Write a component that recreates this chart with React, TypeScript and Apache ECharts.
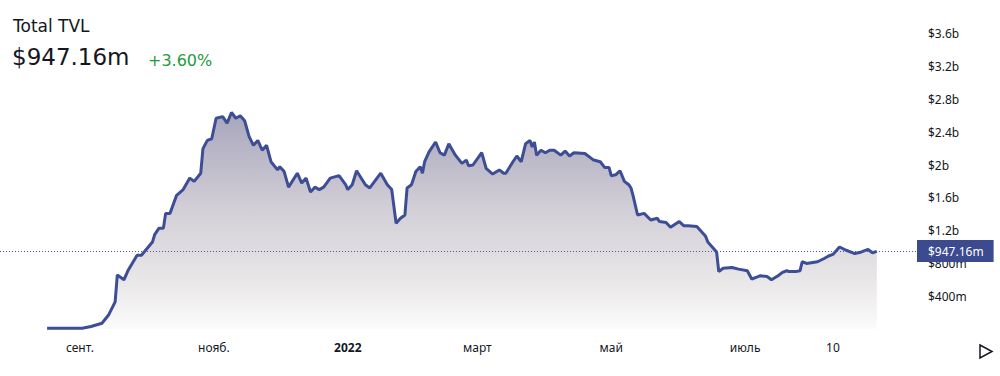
import React, { useEffect, useRef } from "react";
import * as echarts from "echarts";

// Total TVL in billions of USD, daily dates
const dates: string[] = [
  "2021-08-17", "2021-09-02", "2021-09-06", "2021-09-11", "2021-09-14", "2021-09-17", "2021-09-18", "2021-09-21",
  "2021-09-23", "2021-09-27", "2021-09-29", "2021-10-04", "2021-10-05", "2021-10-07", "2021-10-09", "2021-10-10",
  "2021-10-12", "2021-10-15", "2021-10-18", "2021-10-21", "2021-10-23", "2021-10-26", "2021-10-27", "2021-10-29",
  "2021-10-31", "2021-11-02", "2021-11-05", "2021-11-07", "2021-11-09", "2021-11-11", "2021-11-13", "2021-11-15",
  "2021-11-17", "2021-11-19", "2021-11-21", "2021-11-23", "2021-11-25", "2021-11-27", "2021-11-30", "2021-12-01",
  "2021-12-03", "2021-12-05", "2021-12-09", "2021-12-11", "2021-12-13", "2021-12-15", "2021-12-17", "2021-12-19",
  "2021-12-21", "2021-12-24", "2021-12-28", "2021-12-31", "2022-01-01", "2022-01-03", "2022-01-05", "2022-01-09",
  "2022-01-11", "2022-01-16", "2022-01-19", "2022-01-21", "2022-01-23", "2022-01-25", "2022-01-27", "2022-01-28",
  "2022-01-30", "2022-02-01", "2022-02-03", "2022-02-04", "2022-02-05", "2022-02-07", "2022-02-10", "2022-02-12",
  "2022-02-14", "2022-02-16", "2022-02-19", "2022-02-22", "2022-02-24", "2022-02-25", "2022-02-27", "2022-03-03",
  "2022-03-05", "2022-03-08", "2022-03-11", "2022-03-13", "2022-03-14", "2022-03-17", "2022-03-19", "2022-03-21",
  "2022-03-23", "2022-03-25", "2022-03-26", "2022-03-27", "2022-03-28", "2022-03-30", "2022-04-01", "2022-04-03",
  "2022-04-05", "2022-04-08", "2022-04-10", "2022-04-12", "2022-04-14", "2022-04-19", "2022-04-23", "2022-04-26",
  "2022-04-28", "2022-04-30", "2022-05-01", "2022-05-03", "2022-05-05", "2022-05-07", "2022-05-09", "2022-05-10",
  "2022-05-11", "2022-05-13", "2022-05-16", "2022-05-19", "2022-05-22", "2022-05-23", "2022-05-26", "2022-05-28",
  "2022-06-01", "2022-06-03", "2022-06-05", "2022-06-09", "2022-06-13", "2022-06-14", "2022-06-18", "2022-06-19",
  "2022-06-21", "2022-06-25", "2022-06-28", "2022-07-02", "2022-07-04", "2022-07-06", "2022-07-08", "2022-07-11",
  "2022-07-13", "2022-07-16", "2022-07-18", "2022-07-20", "2022-07-21", "2022-07-24", "2022-07-26", "2022-07-27",
  "2022-07-29", "2022-08-03", "2022-08-06", "2022-08-08", "2022-08-10", "2022-08-13", "2022-08-16", "2022-08-20",
  "2022-08-23", "2022-08-26", "2022-08-28", "2022-08-30",
];

const tvl: number[] = [
  0.01, 0.01, 0.03, 0.07, 0.17, 0.33, 0.66, 0.6,
  0.72, 0.9, 0.9, 1.06, 1.15, 1.23, 1.23, 1.41,
  1.41, 1.63, 1.7, 1.84, 1.8, 1.9, 2.2, 2.3,
  2.32, 2.57, 2.59, 2.51, 2.64, 2.57, 2.6, 2.54,
  2.35, 2.24, 2.3, 2.18, 2.24, 2.04, 1.94, 1.98,
  1.92, 1.73, 1.9, 1.78, 1.84, 1.67, 1.73, 1.7,
  1.73, 1.84, 1.87, 1.76, 1.7, 1.76, 1.93, 1.76,
  1.72, 1.9, 1.76, 1.7, 1.29, 1.35, 1.39, 1.72,
  1.76, 1.92, 1.98, 1.9, 2.04, 2.16, 2.28, 2.15,
  2.12, 2.26, 2.12, 2.02, 2.06, 1.99, 2.0, 2.15,
  1.96, 1.89, 1.94, 1.9, 1.9, 2.03, 2.11, 2.04,
  2.26, 2.3, 2.22, 2.28, 2.12, 2.18, 2.15, 2.18,
  2.18, 2.12, 2.17, 2.11, 2.15, 2.14, 2.06, 2.04,
  1.97, 1.97, 1.87, 1.88, 1.93, 1.8, 1.76, 1.72,
  1.62, 1.39, 1.41, 1.33, 1.35, 1.31, 1.3, 1.24,
  1.31, 1.26, 1.26, 1.25, 1.13, 1.06, 0.94, 0.7,
  0.74, 0.75, 0.73, 0.71, 0.61, 0.63, 0.65, 0.64,
  0.6, 0.65, 0.69, 0.71, 0.7, 0.7, 0.71, 0.82,
  0.8, 0.82, 0.86, 0.89, 0.91, 1.0, 0.96, 0.92,
  0.94, 0.97, 0.93, 0.94716,
];

const lastValue = 0.94716;
const titleText = "Total TVL";
const valueText = "$947.16m";
const changeText = "+3.60%";

const xTickDates: string[] = ["2021-09-01", "2021-11-01", "2022-01-01", "2022-03-01", "2022-05-01", "2022-07-01", "2022-08-10"];
const xTickLabels: string[] = ["сент.", "нояб.", "2022", "март", "май", "июль", "10"];
const boldTicks: string[] = ["2022"];

const DAY = 86400000;
const ts = (s: string) => {
  const [y, m, d] = s.split("-").map(Number);
  return Date.UTC(y, m - 1, d);
};

const fmtMoney = (v: number) => {
  const r = parseFloat(v.toFixed(3));
  if (r === 0) return "";
  if (r >= 1) return "$" + parseFloat(r.toFixed(2)) + "b";
  return "$" + Math.round(r * 1000) + "m";
};

export default function App() {
  const ref = useRef<HTMLDivElement>(null);
  useEffect(() => {
    if (!ref.current) return;
    const chart = echarts.init(ref.current, undefined, { renderer: "svg" });
    const tickTs = xTickDates.map(ts);
    const axisFont = "'Noto Sans', sans-serif";
    const option: any = {
      animation: false,
      backgroundColor: "#ffffff",
      grid: { left: 0, right: 83, top: 33.8, bottom: 47 },
      xAxis: {
        type: "value",
        min: ts("2021-09-01") - 36.45 * DAY,
        max: ts("2021-09-01") + 381.3 * DAY,
        axisLine: { show: false },
        axisTick: { show: false },
        splitLine: { show: false },
        axisLabel: {
          customValues: tickTs,
          margin: 12,
          color: "#131722",
          fontSize: 12,
          fontFamily: axisFont,
          showMinLabel: true,
          showMaxLabel: true,
          formatter: (v: number) => {
            const i = tickTs.findIndex((t) => Math.abs(t - v) < DAY / 2);
            if (i < 0) return "";
            const lab = xTickLabels[i];
            return boldTicks.includes(lab) ? "{b|" + lab + "}" : lab;
          },
          rich: { b: { fontWeight: "bold", fontSize: 12, fontFamily: axisFont, color: "#131722" } },
        },
      },
      yAxis: {
        type: "value",
        position: "right",
        min: 0,
        max: 3.6,
        interval: 0.4,
        axisLine: { show: false },
        axisTick: { show: false },
        splitLine: { show: false },
        axisLabel: {
          margin: 11,
          color: "#131722",
          fontSize: 12,
          fontFamily: axisFont,
          formatter: fmtMoney,
        },
      },
      series: [
        {
          type: "line",
          data: dates.map((d, i) => [ts(d), tvl[i]]),
          showSymbol: false,
          symbol: "none",
          lineStyle: { color: "#3d4d96", width: 3 },
          areaStyle: {
            color: new echarts.graphic.LinearGradient(0, 0, 0, 1, [
              { offset: 0, color: "rgb(130,128,158)" },
              { offset: 0.43, color: "rgb(189,184,196)" },
              { offset: 0.8, color: "rgb(226,223,224)" },
              { offset: 0.94, color: "rgb(243,242,242)" },
              { offset: 1, color: "rgb(251,250,250)" },
            ]),
          },
          markLine: {
            silent: true,
            symbol: ["none", "none"],
            lineStyle: { color: "#4e5aa0", type: [1, 2], width: 1 },
            label: {
              position: "end",
              distance: 0,
              formatter: () => valueText,
              color: "#ffffff",
              backgroundColor: "#3c4a90",
              padding: [5, 10, 5, 11],
              fontSize: 12,
              fontFamily: axisFont,
            },
            data: [{ yAxis: lastValue }],
          },
        },
      ],
      graphic: [
        {
          type: "text",
          left: 13,
          top: 17,
          style: { text: titleText, fontSize: 17, fontFamily: "'DejaVu Sans', sans-serif", fill: "#131722" },
        },
        {
          type: "text",
          left: 12,
          top: 45,
          style: { text: valueText, fontSize: 23, fontFamily: "'DejaVu Sans', sans-serif", fill: "#131722" },
        },
        {
          type: "text",
          left: 148,
          top: 52,
          style: { text: changeText, fontSize: 16, fontFamily: "'DejaVu Sans', sans-serif", fill: "#1f9a3c" },
        },
        {
          type: "polygon",
          shape: { points: [[980, 345], [992, 351.5], [980, 358]] },
          style: { fill: "none", stroke: "#131722", lineWidth: 1.5 },
        },
      ],
    };
    chart.setOption(option);
    return () => chart.dispose();
  }, []);
  return (
    <div
      ref={ref}
      style={{ position: "fixed", left: 0, top: 0, width: 1000, height: 376, background: "#fff" }}
    />
  );
}
